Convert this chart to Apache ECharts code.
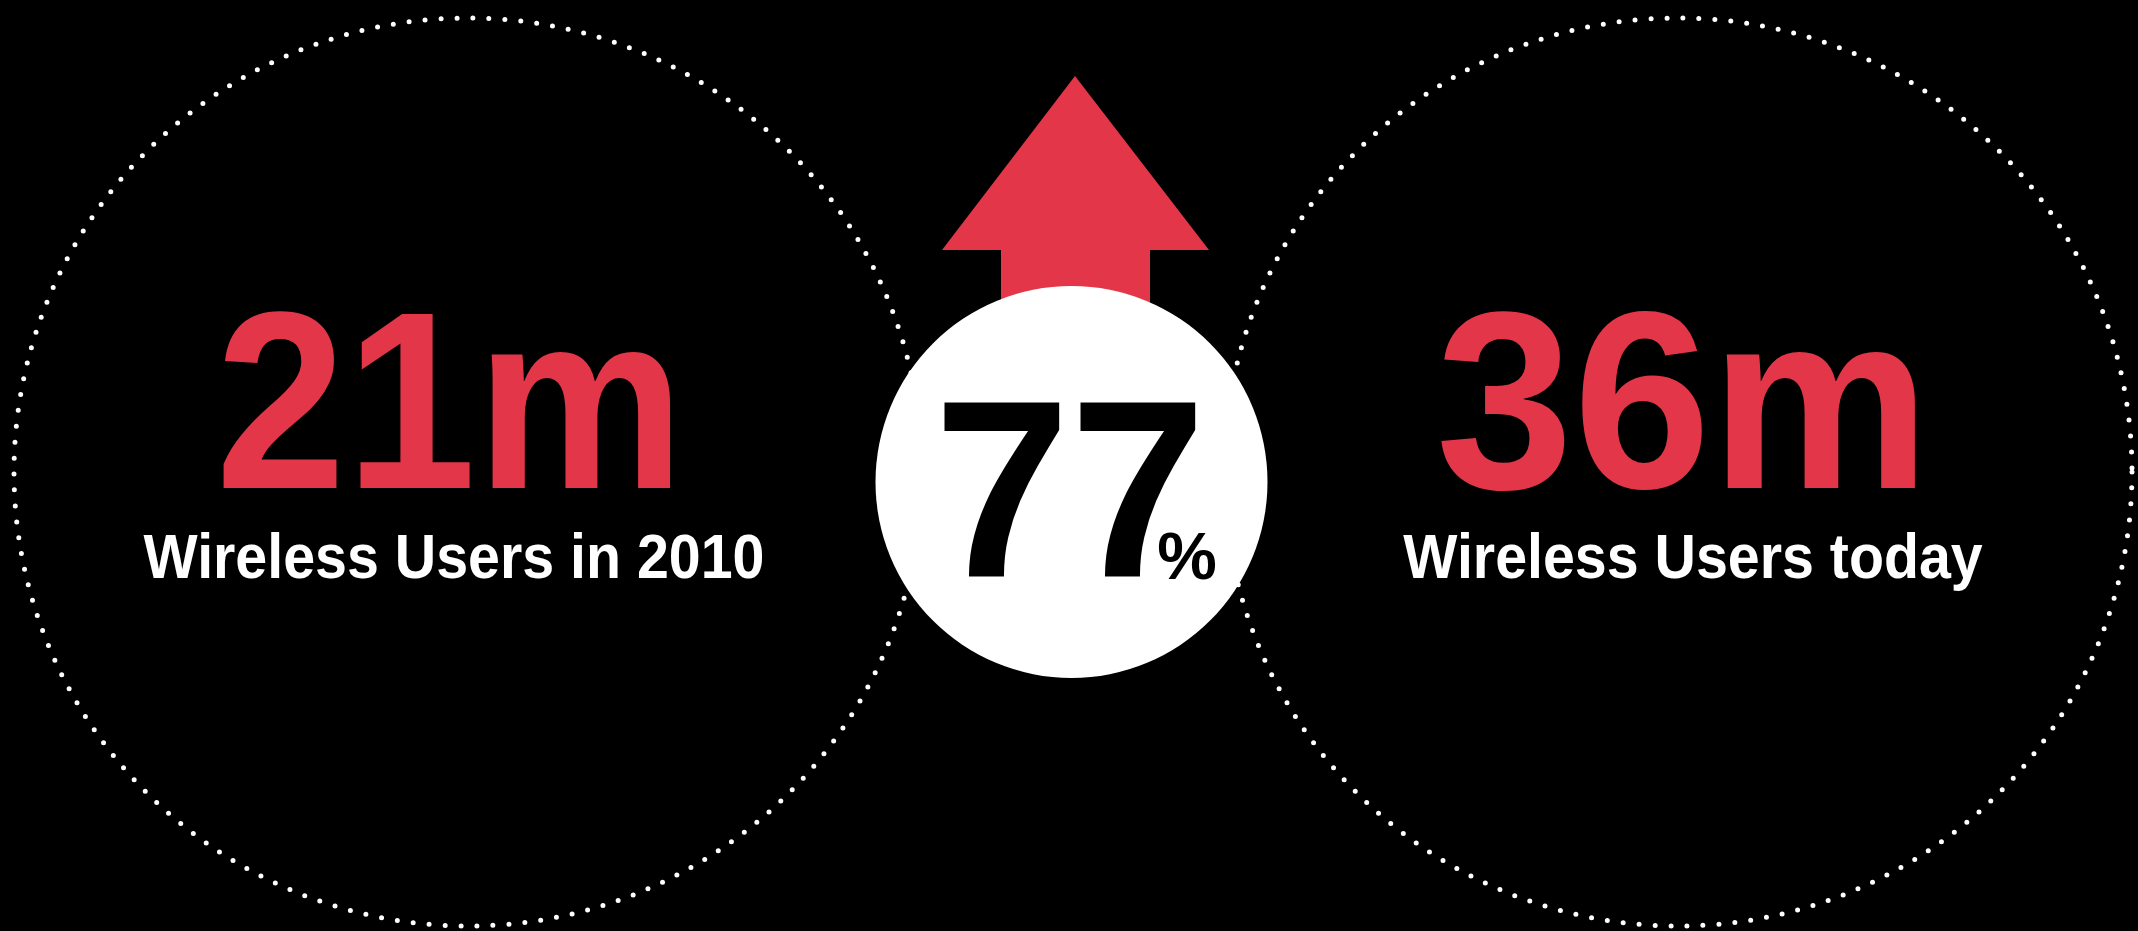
<!DOCTYPE html>
<html>
<head>
<meta charset="utf-8">
<title>Wireless Users</title>
<script src="https://cdn.jsdelivr.net/npm/echarts@6/dist/echarts.min.js"></script>
<style>
  html, body { margin: 0; padding: 0; background: #000; }
  #chart { width: 2138px; height: 931px; }
</style>
</head>
<body>
<div id="chart"></div>
<script>
// Wireless users (millions), then and now
const userCounts = [21, 36];
const countSuffix = 'm';
const userLabels = ['Wireless Users in 2010', 'Wireless Users today'];
// Growth figure shown in the centre badge
const growthPercent = [77];

const RED = '#e33648';
const FONT = '"Liberation Sans", Arial, Helvetica, sans-serif';

const chart = echarts.init(document.getElementById('chart'), null, { renderer: 'canvas' });

// Two dotted rings, one per period
const ringCentres = [[468, 472], [1678, 472]];
const ringRadius = 454;

function textEl(str, x, y, size, color, scaleX, z) {
  return {
    type: 'text',
    x: x,
    y: y,
    scaleX: scaleX,
    z: z,
    style: {
      text: str,
      fill: color,
      fontSize: size,
      fontWeight: 'bold',
      fontFamily: FONT,
      align: 'center',
      verticalAlign: 'middle',
      textAlign: 'center',
      textVerticalAlign: 'middle'
    }
  };
}

const elements = [];

ringCentres.forEach(function (c) {
  elements.push({
    type: 'circle',
    z: 1,
    shape: { cx: c[0], cy: c[1], r: ringRadius },
    style: {
      fill: null,
      stroke: '#ffffff',
      lineWidth: 5,
      lineDash: [0, 16],
      lineCap: 'round'
    }
  });
});

// Upward arrow behind the badge
elements.push({
  type: 'polygon',
  z: 2,
  shape: {
    points: [
      [1075, 76], [1209, 250], [1150, 250], [1150, 340],
      [1001, 340], [1001, 250], [942, 250]
    ]
  },
  style: { fill: RED }
});

// White badge
elements.push({
  type: 'circle',
  z: 3,
  shape: { cx: 1071.5, cy: 482, r: 196 },
  style: { fill: '#ffffff' }
});

// Big counts and captions
const countX = [450, 1683];
const countScale = [0.93, 0.98];
const labelX = [454, 1693];
userCounts.forEach(function (v, i) {
  elements.push(textEl(String(v) + countSuffix, countX[i], 419, 252, RED, countScale[i], 5));
  elements.push(textEl(userLabels[i], labelX[i], 561, 63, '#ffffff', 0.91, 5));
});

// Growth figure inside the badge
elements.push(textEl(String(growthPercent[0]), 1070, 507, 252, '#000000', 0.97, 6));
elements.push(textEl('%', 1187, 561, 67, '#000000', 1, 6));

chart.setOption({
  backgroundColor: '#000000',
  animation: false,
  graphic: { elements: elements }
});
</script>
</body>
</html>
